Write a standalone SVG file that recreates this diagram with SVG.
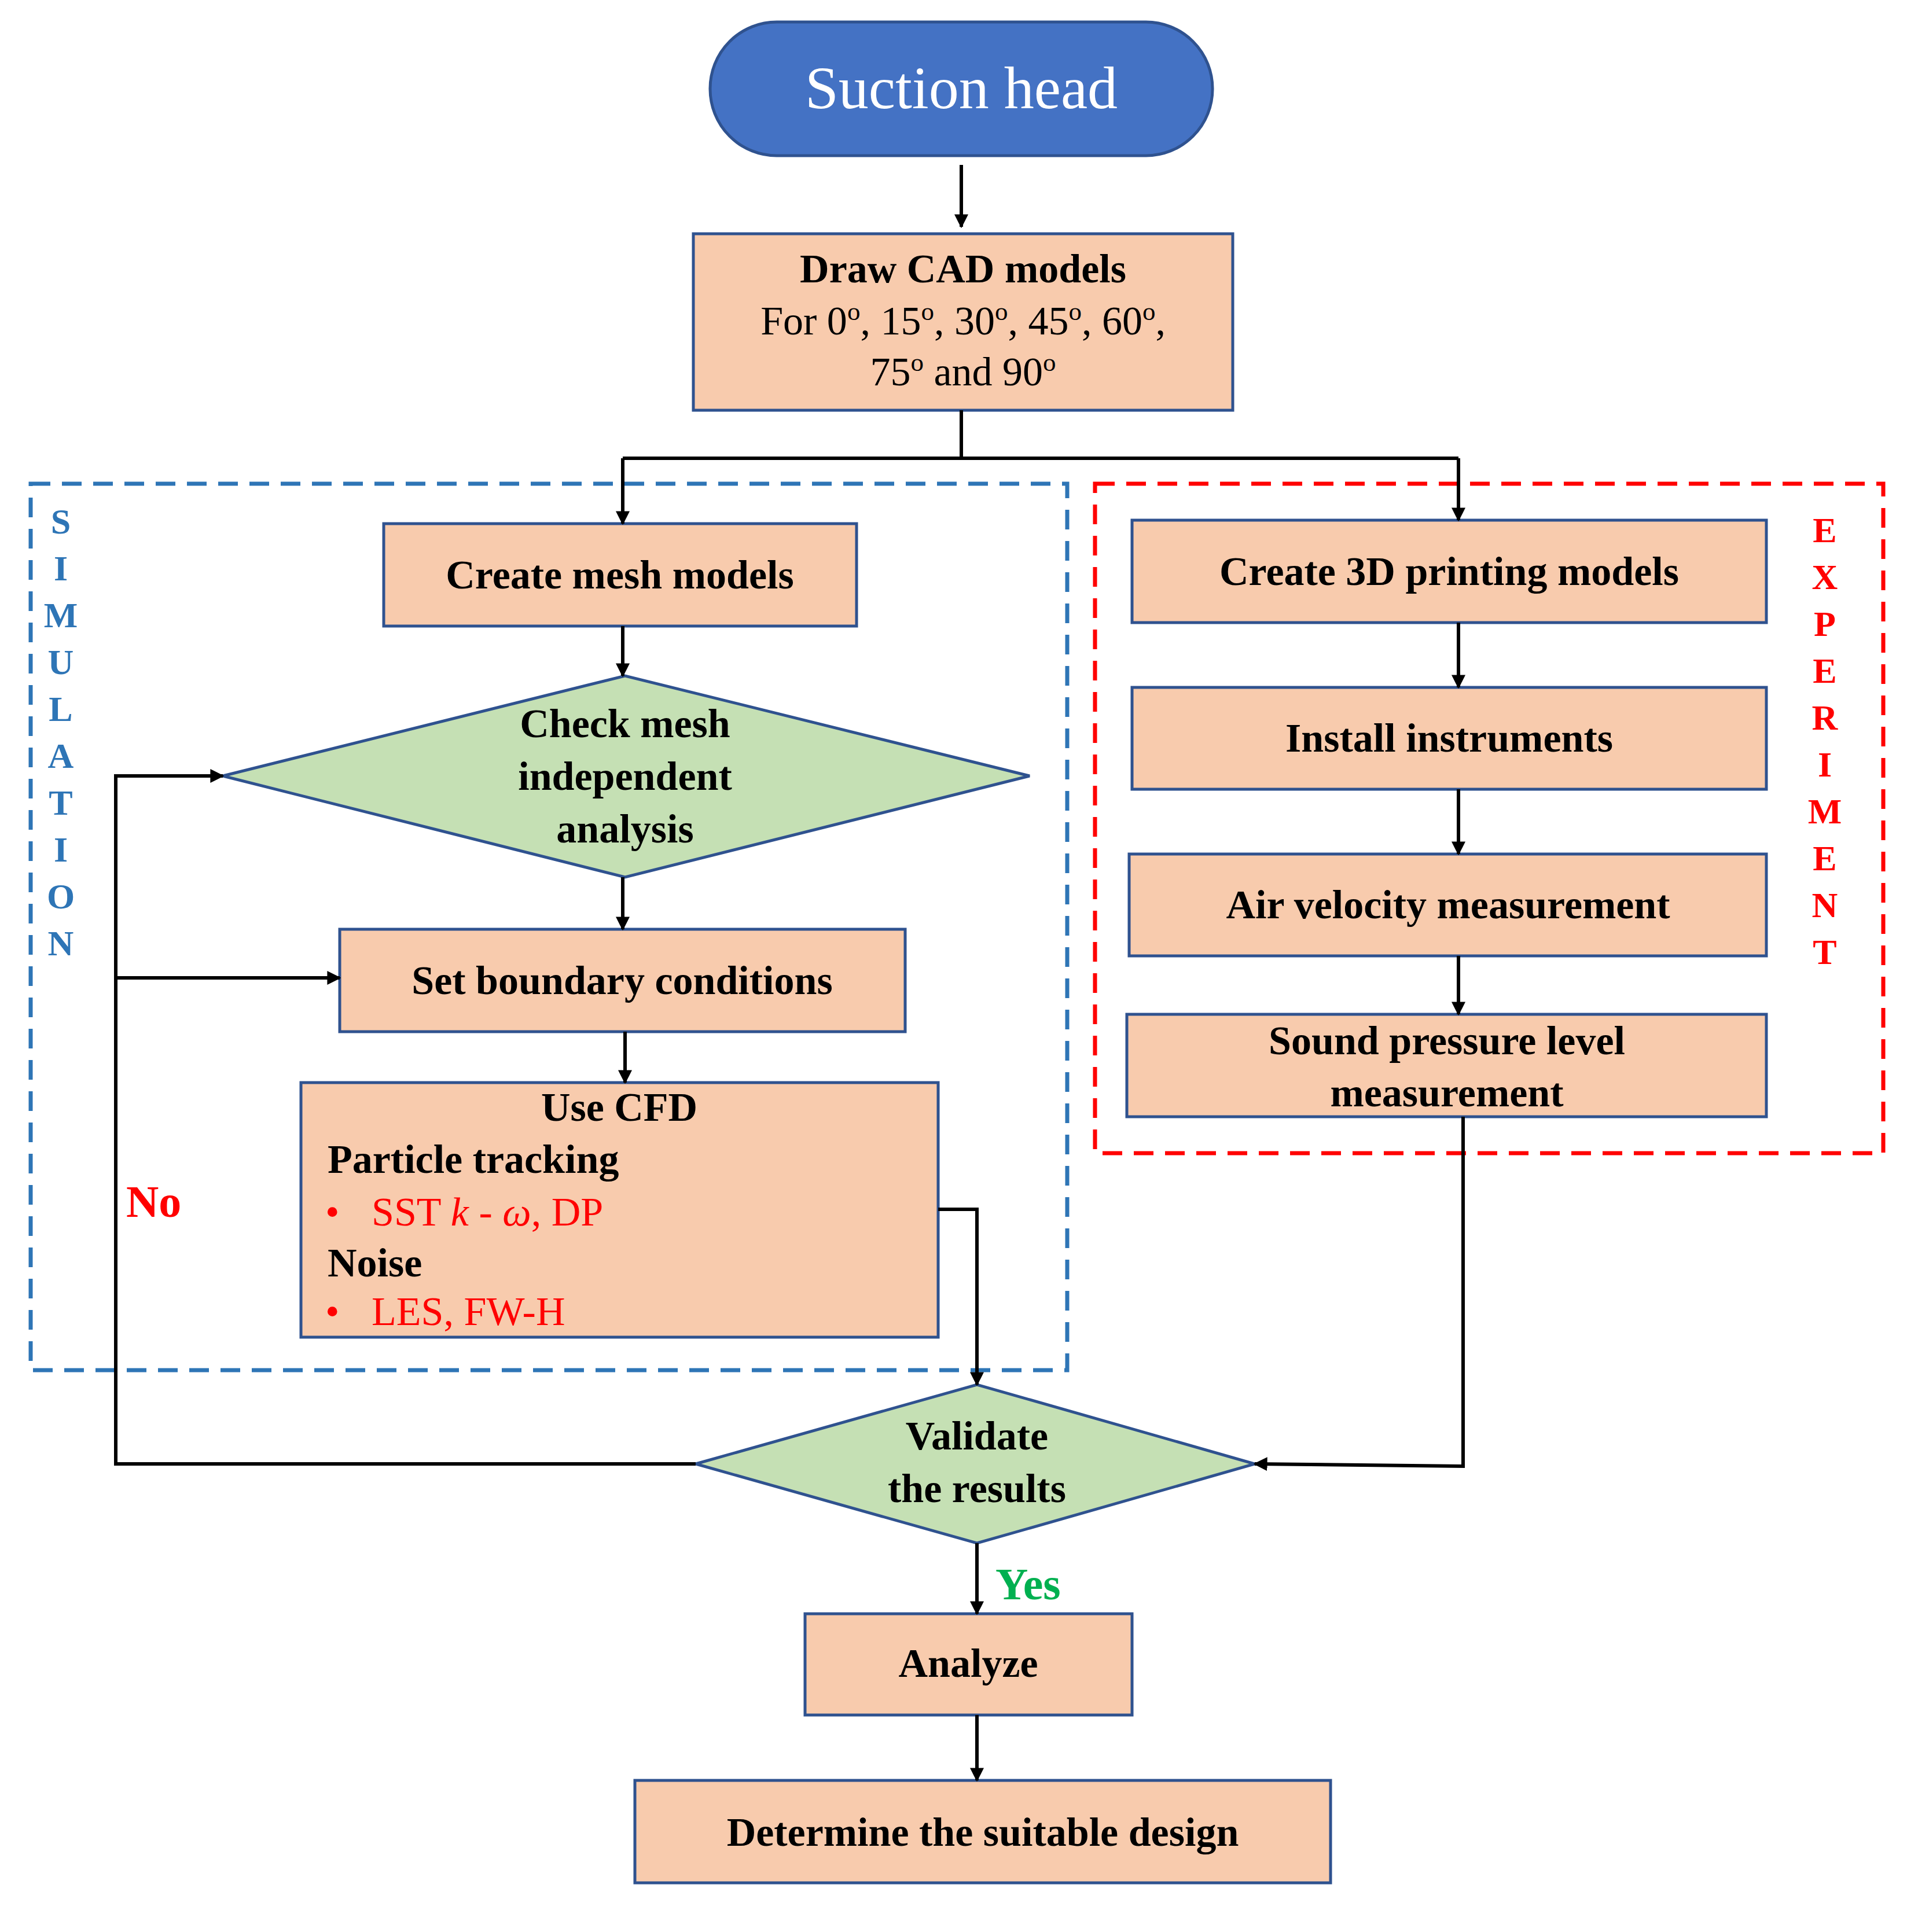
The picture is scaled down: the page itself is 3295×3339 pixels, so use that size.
<svg xmlns="http://www.w3.org/2000/svg" width="3295" height="3339" viewBox="0 0 3295 3339">
<style>
.box{fill:#F8CBAD;stroke:#2F528F;stroke-width:5}
.dia{fill:#C5E0B4;stroke:#2F528F;stroke-width:5}
.t{font-family:"Liberation Serif",serif;font-weight:bold;font-size:70px;fill:#000;text-anchor:middle}
.r{font-family:"Liberation Serif",serif;font-size:70px;fill:#000}
.red{fill:#FF0000}
.ln{fill:none;stroke:#000;stroke-width:6}
.sl{font-family:"Liberation Serif",serif;font-weight:bold;font-size:62px;text-anchor:middle}
</style>
<defs>
<marker id="a" viewBox="0 0 10 10" refX="9" refY="5" markerWidth="4" markerHeight="4" orient="auto" markerUnits="strokeWidth"><path d="M0,0L10,5L0,10z" fill="#000"/></marker>
</defs>
<rect width="3295" height="3339" fill="#fff"/>
<g id="simulation">
<rect x="53" y="836" width="1791" height="1532" fill="none" stroke="#2E75B6" stroke-width="7" stroke-dasharray="34,20"/>
<g class="sl" fill="#2E75B6"><text x="105" y="922">S</text><text x="105" y="1003">I</text><text x="105" y="1084">M</text><text x="105" y="1165">U</text><text x="105" y="1246">L</text><text x="105" y="1327">A</text><text x="105" y="1408">T</text><text x="105" y="1489">I</text><text x="105" y="1570">O</text><text x="105" y="1651">N</text></g>
</g>
<g id="experiment">
<rect x="1892" y="836" width="1362" height="1157" fill="none" stroke="#FF0000" stroke-width="7" stroke-dasharray="34,20"/>
<g class="sl" fill="#FF0000"><text x="3153" y="937">E</text><text x="3153" y="1018">X</text><text x="3153" y="1099">P</text><text x="3153" y="1180">E</text><text x="3153" y="1261">R</text><text x="3153" y="1342">I</text><text x="3153" y="1423">M</text><text x="3153" y="1504">E</text><text x="3153" y="1585">N</text><text x="3153" y="1666">T</text></g>
</g>
<g id="suction">
<rect x="1227" y="38" width="868" height="231" rx="115" fill="#4472C4" stroke="#2F528F" stroke-width="5"/>
<text x="1661" y="187" font-family="Liberation Serif,serif" font-size="104" fill="#fff" text-anchor="middle">Suction head</text>
</g>
<g id="cad">
<rect class="box" x="1198" y="404" width="932" height="305"/>
<text class="t" x="1664" y="488">Draw CAD models</text>
<text class="r" x="1664" y="578" text-anchor="middle">For 0<tspan font-size="45" baseline-shift="super">o</tspan>, 15<tspan font-size="45" baseline-shift="super">o</tspan>, 30<tspan font-size="45" baseline-shift="super">o</tspan>, 45<tspan font-size="45" baseline-shift="super">o</tspan>, 60<tspan font-size="45" baseline-shift="super">o</tspan>,</text>
<text class="r" x="1664" y="666" text-anchor="middle">75<tspan font-size="45" baseline-shift="super">o</tspan> and 90<tspan font-size="45" baseline-shift="super">o</tspan></text>
</g>
<g id="mesh"><rect class="box" x="663" y="905" width="817" height="177"/><text class="t" x="1071" y="1017">Create mesh models</text></g>
<g id="check"><polygon class="dia" points="385,1341 1080,1168 1779,1341 1080,1516"/>
<text class="t" x="1080" y="1274">Check mesh</text><text class="t" x="1080" y="1365">independent</text><text class="t" x="1080" y="1456">analysis</text></g>
<g id="boundary"><rect class="box" x="587" y="1606" width="977" height="177"/><text class="t" x="1075" y="1718">Set boundary conditions</text></g>
<g id="cfd"><rect class="box" x="520" y="1871" width="1101" height="440"/>
<text class="t" x="1070" y="1937">Use CFD</text>
<text class="r" x="566" y="2027" font-weight="bold">Particle tracking</text>
<text class="r red" x="562" y="2118">•<tspan x="642">SST </tspan><tspan font-style="italic">k</tspan> - <tspan font-style="italic">ω</tspan>, DP</text>
<text class="r" x="566" y="2206" font-weight="bold">Noise</text>
<text class="r red" x="562" y="2290">•<tspan x="642">LES, FW-H</tspan></text>
</g>
<g id="p3d"><rect class="box" x="1956" y="899" width="1096" height="177"/><text class="t" x="2504" y="1011">Create 3D printing models</text></g>
<g id="install"><rect class="box" x="1956" y="1188" width="1096" height="176"/><text class="t" x="2504" y="1299">Install instruments</text></g>
<g id="air"><rect class="box" x="1951" y="1476" width="1101" height="176"/><text class="t" x="2502" y="1587">Air velocity measurement</text></g>
<g id="sound"><rect class="box" x="1947" y="1753" width="1105" height="177"/><text class="t" x="2500" y="1822">Sound pressure level</text><text class="t" x="2500" y="1912">measurement</text></g>
<g id="validate"><polygon class="dia" points="1202,2530 1688,2393 2168,2530 1688,2667"/>
<text class="t" x="1688" y="2505">Validate</text><text class="t" x="1688" y="2596">the results</text></g>
<g id="analyze"><rect class="box" x="1391" y="2789" width="565" height="175"/><text class="t" x="1673" y="2898">Analyze</text></g>
<g id="determine"><rect class="box" x="1097" y="3077" width="1202" height="177"/><text class="t" x="1698" y="3190">Determine the suitable design</text></g>
<g id="connectors">
<path class="ln" marker-end="url(#a)" d="M1661,285V392"/>
<path class="ln" d="M1661,709V792H1076M1661,792H2520"/>
<path class="ln" marker-end="url(#a)" d="M1076,792V905"/>
<path class="ln" marker-end="url(#a)" d="M2520,792V899"/>
<path class="ln" marker-end="url(#a)" d="M1076,1082V1168"/>
<path class="ln" marker-end="url(#a)" d="M1076,1516V1606"/>
<path class="ln" marker-end="url(#a)" d="M1080,1783V1871"/>
<path class="ln" marker-end="url(#a)" d="M1621,2090H1688V2393"/>
<path class="ln" marker-end="url(#a)" d="M1202,2530H200V1341H385"/>
<path class="ln" marker-end="url(#a)" d="M200,1690H587"/>
<path class="ln" marker-end="url(#a)" d="M2520,1076V1188"/>
<path class="ln" marker-end="url(#a)" d="M2520,1364V1476"/>
<path class="ln" marker-end="url(#a)" d="M2520,1652V1753"/>
<path class="ln" marker-end="url(#a)" d="M2528,1930V2534L2168,2530"/>
<path class="ln" marker-end="url(#a)" d="M1688,2667V2789"/>
<path class="ln" marker-end="url(#a)" d="M1688,2964V3077"/>
<text x="1720" y="2764" font-family="Liberation Serif,serif" font-weight="bold" font-size="78" fill="#00B050">Yes</text>
<text x="218" y="2103" font-family="Liberation Serif,serif" font-weight="bold" font-size="78" fill="#FF0000">No</text>
</g>
</svg>
